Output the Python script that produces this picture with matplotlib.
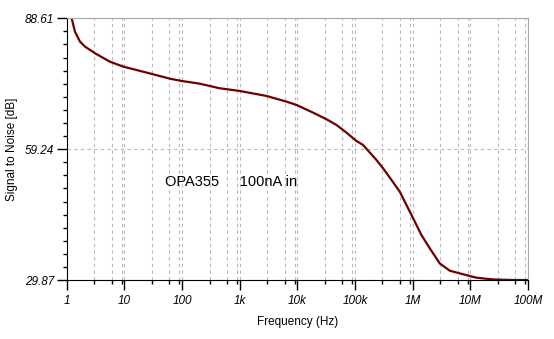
import numpy as np
import matplotlib
matplotlib.use('Agg')
import matplotlib.pyplot as plt
from matplotlib.ticker import FixedLocator, NullFormatter

## curve
freq = [1.22, 1.39, 1.70, 2.08, 3.1, 5.6, 9.6, 16.3, 30, 61.7, 98, 200,
        454, 1007, 2924, 6500, 9690, 18800, 32000, 47800, 71300,
        106000, 138000, 236000, 307000, 430000, 598000, 781000, 1.02e6,
        1.42e6, 1.98e6, 2.95e6, 4.4e6, 6.5e6, 12.8e6, 24.7e6, 55e6, 100e6]
snr = [88.61, 85.6, 83.37, 82.25, 80.76, 78.88, 77.76, 77.0, 76.12, 75.06, 74.55, 73.95,
       72.9, 72.3, 71.18, 69.9, 69.16, 67.43, 65.95, 64.67, 62.94,
       61.08, 60.18, 56.8, 54.95, 52.32, 49.69, 46.71, 43.72,
       39.97, 36.99, 33.6, 31.96, 31.37, 30.39, 30.0, 29.87, 29.87]

y_ticks = [29.87, 59.24, 88.61]
x_ticks = [1, 10, 100, 1e3, 1e4, 1e5, 1e6, 1e7, 1e8]
x_labels = ['1', '10', '100', '1k', '10k', '100k', '1M', '10M', '100M']

plt.rcParams['font.family'] = ['Liberation Sans', 'DejaVu Sans']

fig = plt.figure(figsize=(5.54, 3.39), dpi=100)
ax = fig.add_axes([0.1204, 0.174, 0.953 - 0.1204, 0.946 - 0.174])

ax.plot(freq, snr, color='#6e0000', lw=1.6, clip_on=True)

ax.set_xscale('log')
ax.set_xlim(1, 1e8)
ax.set_ylim(29.87, 88.61)

## grid lines at 3, 6, 9, 10 of every decade
minor_x = [m * 10**k for k in range(8) for m in (3, 6, 9)]
ax.xaxis.set_major_locator(FixedLocator(x_ticks))
ax.xaxis.set_minor_locator(FixedLocator(minor_x))
ax.xaxis.set_minor_formatter(NullFormatter())
ax.set_xticklabels(x_labels)

ax.set_yticks(y_ticks)
ax.set_yticklabels(['%.2f' % v for v in y_ticks])
step = (88.61 - 29.87) / 20
ax.yaxis.set_minor_locator(FixedLocator([29.87 + i * step for i in range(21)]))

ax.grid(True, which='both', axis='x', color='#b8b8b8', ls=(0, (3, 3)), lw=0.8)
ax.grid(True, which='major', axis='y', color='#b8b8b8', ls=(0, (3, 3)), lw=0.8)

ax.tick_params(which='major', direction='out', length=7, width=1, labelsize=8.5)
ax.tick_params(axis='y', which='major', pad=2)
ax.tick_params(axis='x', which='major', pad=4)
ax.tick_params(which='minor', direction='out', length=3, width=1)
for lab in ax.get_xticklabels() + ax.get_yticklabels():
    lab.set_fontstyle('italic')

ax.spines['left'].set_color('black')
ax.spines['bottom'].set_color('black')
ax.spines['top'].set_color('#a8a8a8')
ax.spines['right'].set_color('#a8a8a8')

ax.set_xlabel('Frequency (Hz)', fontsize=8.5, labelpad=6)
ax.set_ylabel('Signal to Noise [dB]', fontsize=8.5, labelpad=5)

ax.text(705, 51.9, 'OPA355     100nA in', fontsize=10.5, ha='center', va='center')

fig.savefig('out.png', dpi=100)
